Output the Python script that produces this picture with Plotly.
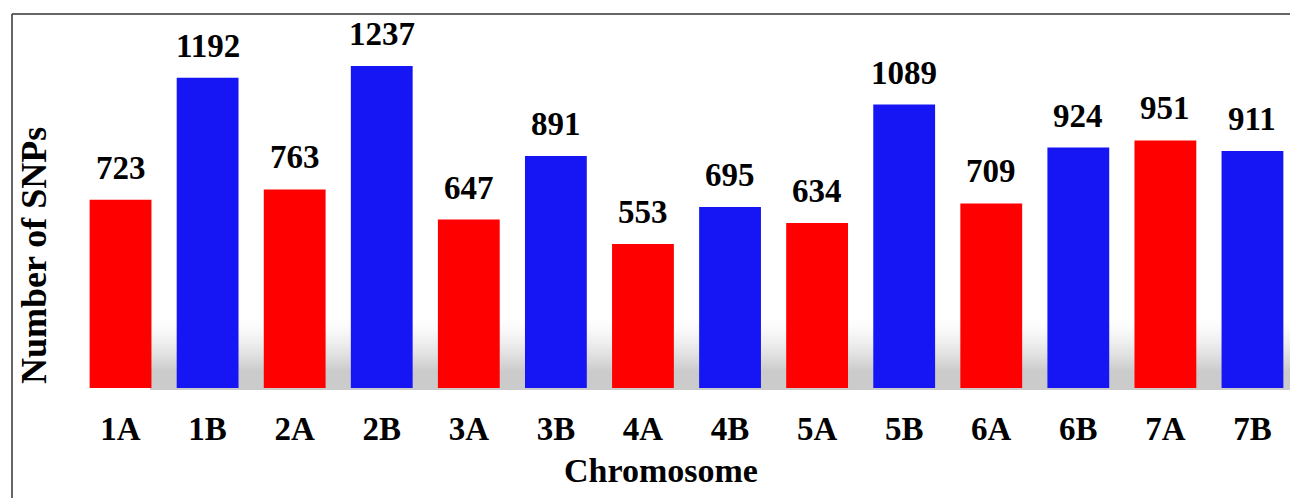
import plotly.graph_objects as go

# ---- data ----
chromosomes = ["1A", "1B", "2A", "2B", "3A", "3B", "4A", "4B", "5A", "5B", "6A", "6B", "7A", "7B"]
snp_counts = [723, 1192, 763, 1237, 647, 891, 553, 695, 634, 1089, 709, 924, 951, 911]

RED = "#FF0000"
BLUE = "#1616F4"
colors = [RED if c.endswith("A") else BLUE for c in chromosomes]

FONT = "Liberation Serif, Times New Roman, serif"
OFF = 8  # page body margin
W, H = 1298 - OFF, 498 - OFF
# plot area in reference pixel coords: x 77.5..1296, y 14..388
L = 77 - OFF
R = W - (1296 - OFF)
T = 14 - OFF
B = H - (388 - OFF)
PW, PH = W - L - R, H - T - B


def px_to_paper_x(px):
    return (px - OFF - L) / PW


def px_to_paper_y(py):
    return (H - B - (py - OFF)) / PH


fig = go.Figure()
fig.add_trace(go.Bar(
    x=chromosomes,
    y=snp_counts,
    marker=dict(color=colors, line=dict(width=0)),
    hoverinfo="x+y",
))

annotations = []
for c, v in zip(chromosomes, snp_counts):
    annotations.append(dict(
        x=c, y=v, xref="x", yref="y", text=str(v), showarrow=False,
        yanchor="bottom", yshift=12,
        font=dict(family=FONT, size=33, color="black", weight="bold"),
    ))

annotations.append(dict(
    x=px_to_paper_x(661), y=px_to_paper_y(470), xref="paper", yref="paper",
    text="Chromosome", showarrow=False, xanchor="center", yanchor="middle",
    font=dict(family=FONT, size=34, color="black", weight="bold"),
))
annotations.append(dict(
    x=px_to_paper_x(34), y=px_to_paper_y(256), xref="paper", yref="paper",
    text="Number of SNPs", showarrow=False, xanchor="center", yanchor="middle",
    textangle=-90,
    font=dict(family=FONT, size=36, color="black", weight="bold"),
))

shapes = []
# soft floor shadow behind the bars (decoration)
top_px, dark_px, bot_px = 316, 370, 389
step = 2
py = top_px
while py < bot_px:
    if py < dark_px:
        t = (py - top_px) / (dark_px - top_px)
        g = int(round(255 - 52 * (t ** 1.5)))
    else:
        g = 203
    col = f"rgb({g},{g},{g})"
    shapes.append(dict(
        type="rect", xref="paper", yref="paper", layer="below",
        x0=px_to_paper_x(150), x1=1.0,
        y0=px_to_paper_y(py + step), y1=px_to_paper_y(py),
        fillcolor=col, line=dict(width=0),
    ))
    py += step

# outer frame (left, top, right)
fx0, fx1 = px_to_paper_x(12), px_to_paper_x(1295.5)
fy_top, fy_bot = px_to_paper_y(14), px_to_paper_y(500)
for x0, y0, x1, y1 in [(fx0, fy_bot, fx0, fy_top), (fx0, fy_top, fx1, fy_top), (fx1, fy_top, fx1, fy_bot)]:
    shapes.append(dict(type="line", xref="paper", yref="paper", x0=x0, y0=y0, x1=x1, y1=y1,
                       line=dict(color="#333333", width=1.5), layer="above"))

fig.update_layout(
    width=W, height=H,
    margin=dict(l=L, r=R, t=T, b=B, pad=0),
    paper_bgcolor="white", plot_bgcolor="white",
    bargap=0.29,
    showlegend=False,
    annotations=annotations,
    shapes=shapes,
    xaxis=dict(
        type="category", range=[-0.5, 13.5],
        showgrid=False, showline=False, zeroline=False, ticks="",
        tickfont=dict(family=FONT, size=33, color="black", weight="bold"),
        ticklabelstandoff=18,
    ),
    yaxis=dict(
        range=[0, 1437], showgrid=False, showline=False, zeroline=False,
        showticklabels=False, ticks="",
    ),
)

fig.write_html("out.html")
